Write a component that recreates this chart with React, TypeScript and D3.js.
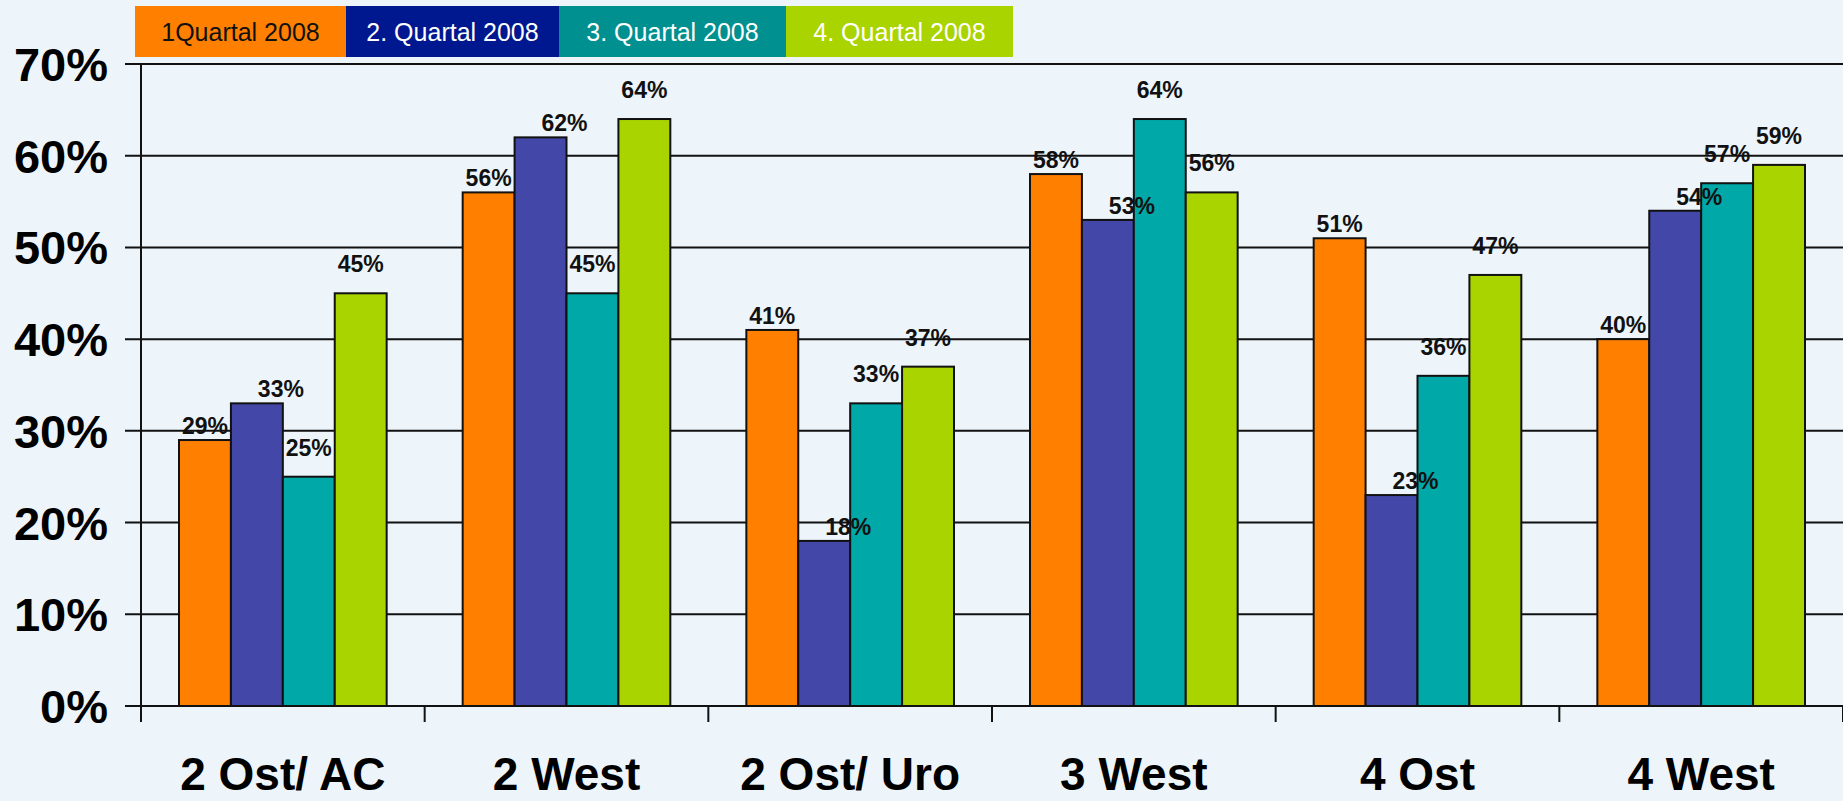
import React from "react";
import * as d3 from "d3";

const categories = ["2 Ost/ AC", "2 West", "2 Ost/ Uro", "3 West", "4 Ost", "4 West"];
const seriesNames = ["1Quartal 2008", "2. Quartal 2008", "3. Quartal 2008", "4. Quartal 2008"];
const q1 = [29, 56, 41, 58, 51, 40];
const q2 = [33, 62, 18, 53, 23, 54];
const q3 = [25, 45, 33, 64, 36, 57];
const q4 = [45, 64, 37, 56, 47, 59];
const yTicks = [0, 10, 20, 30, 40, 50, 60, 70];

const seriesValues = [q1, q2, q3, q4];
const barColors = ["#FF7F00", "#4348A8", "#00A8A8", "#AAD400"];
const legendColors = ["#FF7F00", "#00188F", "#009090", "#AAD400"];
const legendTextColors = ["#111111", "#FFFFFF", "#FFFFFF", "#FFFFFF"];
const legendWidths = [211, 213, 227, 227];
const labelDx = [0, 24, 0, 0];
const labelDy = [-6, -6, -21, -21];

const W = 1843;
const H = 801;
const FONT = "'Liberation Sans', Arial, Helvetica, sans-serif";

export default function App() {
  const x0 = d3.scaleBand<string>().domain(categories).range([141, 1843]).padding(0);
  const bw = x0.bandwidth();
  const x1 = d3
    .scaleBand<string>()
    .domain(seriesNames)
    .range([bw * 0.134, bw * 0.866])
    .padding(0);
  const y = d3.scaleLinear().domain([0, 70]).range([706, 64]);

  let legendX = 135;
  const legendItems = seriesNames.map((name, i) => {
    const item = { name, x: legendX, w: legendWidths[i], i };
    legendX += legendWidths[i];
    return item;
  });

  return (
    <svg
      width={W}
      height={H}
      style={{ position: "absolute", left: 0, top: 0, display: "block" }}
      fontFamily={FONT}
    >
      <rect x={0} y={0} width={W} height={H} fill="#EDF5FA" />
      {yTicks.map((t) => (
        <line key={"g" + t} x1={125} x2={W} y1={y(t)} y2={y(t)} stroke="#111" strokeWidth={2} />
      ))}
      <line x1={141} x2={141} y1={y(70)} y2={722} stroke="#111" strokeWidth={2} />
      {categories.map((c) => (
        <line
          key={"t" + c}
          x1={(x0(c) as number) + bw}
          x2={(x0(c) as number) + bw}
          y1={y(0)}
          y2={722}
          stroke="#111"
          strokeWidth={2}
        />
      ))}
      {yTicks.map((t) => (
        <text
          key={"yl" + t}
          x={108}
          y={y(t) + 17}
          textAnchor="end"
          fontSize={47}
          fontWeight="bold"
          fill="#000"
        >
          {t}%
        </text>
      ))}
      {categories.map((c, ci) => (
        <g key={"grp" + c} transform={`translate(${x0(c)},0)`}>
          {seriesNames.map((s, si) => {
            const v = seriesValues[si][ci];
            return (
              <rect
                key={s}
                x={x1(s)}
                y={y(v)}
                width={x1.bandwidth()}
                height={y(0) - y(v)}
                fill={barColors[si]}
                stroke="#111"
                strokeWidth={2}
              />
            );
          })}
        </g>
      ))}
      {categories.map((c, ci) => (
        <g key={"lab" + c} transform={`translate(${x0(c)},0)`}>
          {seriesNames.map((s, si) => {
            const v = seriesValues[si][ci];
            return (
              <text
                key={s}
                x={(x1(s) as number) + x1.bandwidth() / 2 + labelDx[si]}
                y={y(v) + labelDy[si]}
                textAnchor="middle"
                fontSize={23}
                fontWeight="bold"
                fill="#111"
              >
                {v}%
              </text>
            );
          })}
        </g>
      ))}
      {categories.map((c) => (
        <text
          key={"cl" + c}
          x={(x0(c) as number) + bw / 2}
          y={790}
          textAnchor="middle"
          fontSize={46}
          fontWeight="bold"
          fill="#000"
        >
          {c}
        </text>
      ))}
      {legendItems.map((it) => (
        <g key={"lg" + it.name}>
          <rect x={it.x} y={6} width={it.w} height={51} fill={legendColors[it.i]} />
          <text
            x={it.x + it.w / 2}
            y={41}
            textAnchor="middle"
            fontSize={25}
            fill={legendTextColors[it.i]}
          >
            {it.name}
          </text>
        </g>
      ))}
    </svg>
  );
}
